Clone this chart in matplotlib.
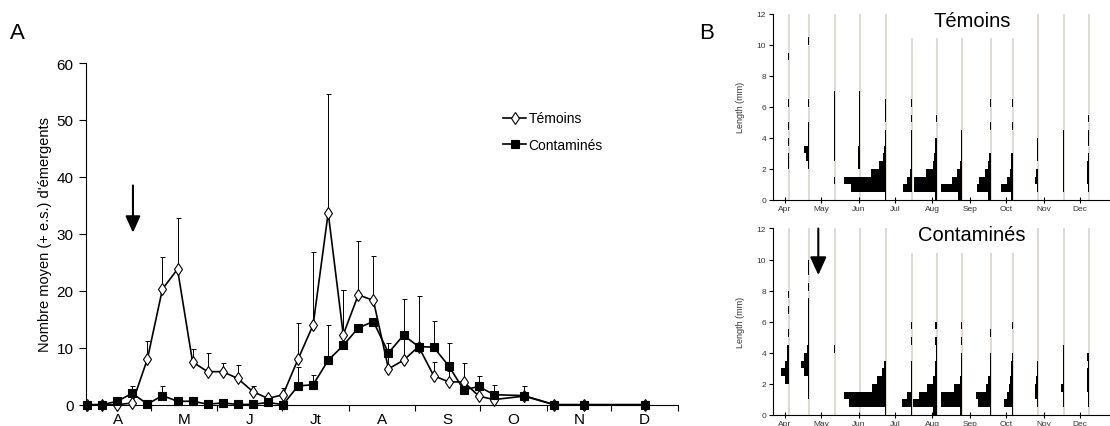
import numpy as np
import matplotlib
matplotlib.use('Agg')
from matplotlib import pyplot as plt
from matplotlib.patches import Rectangle

plt.rcParams['font.family'] = ['Liberation Sans', 'DejaVu Sans']

# ---- Panneau A : nombre moyen d'émergents (jours depuis le 1er avril) ----
jours = [0.5, 7.5, 14.5, 21.5, 28.5, 35.5, 42.5, 49.5, 56.5, 63.5, 70.5,
         77.5, 84.5, 91.5, 98.5, 105.5, 112.5, 119.5, 126.5, 133.5, 140.5,
         147.5, 154.5, 161.5, 168.5, 175.5, 182.5, 189.5, 203.5, 217.5,
         231.5, 259.5]
temoins = [0, 0, 0, 0.3, 8.0, 20.3, 23.8, 7.5, 5.8, 5.8, 4.6, 2.3, 1.1,
           1.75, 8.0, 14.0, 33.7, 12.3, 19.3, 18.3, 6.3, 7.8, 10.2, 5.1,
           4.0, 4.0, 1.5, 0.9, 1.5, 0, 0, 0]
temoins_es = [0, 0, 0, 0, 3.2, 5.7, 9.0, 2.2, 3.3, 1.5, 2.3, 1.0, 0.4,
              1.15, 6.3, 12.8, 20.8, 7.9, 9.4, 7.8, 4.5, 4.0, 0, 2.4,
              2.0, 3.3, 0, 0, 0, 0, 0, 0]
contamines = [0, 0, 0.6, 2.0, 0.1, 1.6, 0.6, 0.6, 0.1, 0.3, 0.05, 0.05,
              0.4, 0, 3.3, 3.5, 7.8, 10.4, 13.5, 14.6, 9.1, 12.2, 10.2,
              10.1, 6.8, 2.6, 3.2, 1.75, 1.6, 0, 0, 0]
contamines_es = [0, 0, 0.5, 1.2, 0, 1.7, 0, 0, 0, 0, 0, 0, 0.3, 0, 3.4,
                 1.8, 6.2, 9.8, 0, 0, 0, 6.3, 8.9, 4.6, 4.0, 0, 1.9, 1.75,
                 1.6, 0, 0, 0]
mois_a = ['A', 'M', 'J', 'Jt', 'A', 'S', 'O', 'N', 'D']
debut_mois = [0, 30, 61, 91, 122, 153, 183, 214, 244, 275]

# ---- Panneau B : distributions de tailles (classes de 0.5 mm) ----
dates_b = [3.3, 20.1, 41.1, 62.0, 83.5, 105.3, 125.5, 146.7, 170.6, 188.3,
           209.5, 230.8, 251.4]
mois_b = ['Apr', 'May', 'Jun', 'Jul', 'Aug', 'Sep', 'Oct', 'Nov', 'Dec']
hist_temoins = [
    [0, 0, 0, 0.5, 1.2, 1.2, 0, 0.6, 0, 0.6, 0, 0, 0.6, 0, 0, 0, 0, 0, 0.6],
    [0, 0, 0, 0, 1.5, 3.7, 5.3, 1, 1, 1, 0, 0, 1, 0, 0, 0, 0, 0, 0, 0, 1],
    [0, 0, 0.5, 0, 0, 0.5, 1, 1, 1, 1, 0.5, 0.5, 1.2, 0.5],
    [0, 0, 0, 0, 2.3, 2.3, 2.3, 1.3, 1.3, 1.3, 1.3, 1.3, 1.3, 1.3],
    [1, 34.7, 41.7, 15, 6.7, 3.3, 2.3, 1.3, 1.3, 0, 1, 1, 1.3],
    [0, 9, 5, 2, 1.3, 1, 1, 1, 1, 0, 1, 0, 1],
    [1.3, 23, 22.7, 10.7, 4, 2.3, 1.7, 1.3, 0, 0, 0.6],
    [4, 21.3, 10.3, 5.3, 2.7, 1.3, 1.3, 1.3, 1.3],
    [2.7, 14.3, 12, 6, 3.3, 1.7, 0, 0, 0, 1.3, 0, 0, 1.3],
    [1.3, 11.7, 6, 2.7, 1.3, 1.3, 0, 0, 0, 0.6, 0, 0, 0.6],
    [0, 1, 3.3, 2, 0.6, 1, 1, 1],
    [0, 1.3, 1.3, 1.3, 1.3, 0.5, 1.3, 0.5, 1.3],
    [0, 0.5, 2, 2, 2, 0.5, 0, 0.5, 0.5, 0, 0.5],
]
hist_contamines = [
    [0, 0, 0, 0.5, 4, 7.7, 4, 1.7, 1.7, 0, 1.3, 0, 0, 0.6, 0, 0.8],
    [0, 0, 1, 1, 1, 5, 8.7, 5, 2.5, 1, 1, 1, 1, 1, 1, 0, 1, 0, 1, 1],
    [0, 0, 0, 0, 0, 0, 0, 0, 0.7],
    [],
    [1, 37, 42, 14, 8.7, 4.3, 2.2],
    [1.3, 10, 5, 1.3, 1.3, 1.3, 1.3, 0, 0, 1.3, 0, 1.3],
    [4, 24, 17.7, 9.3, 4, 1.7, 1.3, 0.6, 0.6, 1.3, 0, 1.3],
    [2, 21.3, 21.3, 8.7, 2, 1.3, 1.3, 1.3, 0, 1.3, 0, 1.3],
    [1.3, 13.3, 15.3, 5, 2.7, 1.3, 1.3, 1, 0, 0, 1.3],
    [1, 8.3, 5.3, 3.7, 2.7, 1.7, 2, 0.6, 0, 0, 0, 0.6],
    [0, 1.3, 3.3, 3, 1.7, 1.3, 1.3],
    [0, 1.3, 1.3, 3, 1.3, 1.3, 1.3, 1.3, 1.3],
    [0, 0.5, 0.5, 1.3, 1.3, 1.3, 0.5, 1.3],
]
classe = 0.5        # largeur des classes (mm)
echelle = 1 / 1.21  # largeur des barres -> jours

fig = plt.figure(figsize=(11.1, 4.27), dpi=100)

# ---------------- Panneau A ----------------
ax = fig.add_axes([0.0775, 0.0499, 0.5333, 0.8002])
x = np.array(jours)
series = [(temoins, temoins_es, 'd', 'white', 6.5, 'Témoins'),
          (contamines, contamines_es, 's', 'black', 5.5, 'Contaminés')]
for y, es, mk, fc, ms, nom in series:
    y = np.array(y)
    es = np.array(es)
    m = es > 0
    ax.errorbar(x[m], y[m], yerr=[np.zeros(m.sum()), es[m]], fmt='none',
                ecolor='black', elinewidth=0.7, capsize=1.8, capthick=0.7,
                zorder=2)
    ax.plot(x, y, '-', color='black', lw=1.2, marker=mk, mfc=fc, mec='black',
            mew=0.8, ms=ms, label=nom, clip_on=False, zorder=3)

ax.annotate('', xy=(21.8, 30.2), xytext=(21.8, 38.5),
            arrowprops=dict(arrowstyle='-|>,head_length=1.0,head_width=0.45',
                            lw=1.5, color='black', shrinkA=0, shrinkB=0))

ax.set_xlim(0, 275)
ax.set_ylim(0, 60)
ax.set_yticks(range(0, 61, 10))
ax.set_xticks(debut_mois)
ax.set_xticklabels([])
ax.set_xticks([(a + b) / 2 for a, b in zip(debut_mois[:-1], debut_mois[1:])],
              minor=True)
ax.set_xticklabels(mois_a, minor=True)
ax.tick_params(axis='x', which='major', direction='out', length=4, width=0.8)
ax.tick_params(axis='x', which='minor', length=0, labelsize=11, pad=5)
ax.tick_params(axis='y', direction='out', length=5, width=0.8, labelsize=11,
               pad=4)
for s in ['top', 'right']:
    ax.spines[s].set_visible(False)
for s in ['left', 'bottom']:
    ax.spines[s].set_linewidth(0.8)
ax.set_ylabel("Nombre moyen (+ e.s.) d'émergents", fontsize=10.5, labelpad=3)
ax.legend(frameon=False, loc='upper left', bbox_to_anchor=(0.684, 0.895),
          fontsize=10, handlelength=1.6, handletextpad=0.2, labelspacing=0.9)

fig.text(0.009, 0.922, 'A', fontsize=16, va='center')
fig.text(0.630, 0.922, 'B', fontsize=16, va='center')


# ---------------- Panneau B ----------------
def panneau_b(ax, histos, titre):
    ax.vlines(dates_b, 0, 12, color='#dcd8d0', lw=1.3, zorder=1)
    for d, h in zip(dates_b, histos):
        if len(h) == 0:
            continue
        l = np.array(h) * echelle
        bas = np.arange(len(h)) * classe
        ax.barh(bas, l, height=classe, left=d - l, align='edge',
                color='black', lw=0, zorder=2)
    ax.add_patch(Rectangle((95, 10.45), 105, 2, color='white', lw=0, zorder=3))
    ax.text(0.59, 0.965, titre, transform=ax.transAxes, ha='center',
            va='center', fontsize=14.5, zorder=4)
    ax.set_xlim(-10, 269)
    ax.set_ylim(0, 12)
    ax.set_yticks(range(0, 13, 2))
    ax.set_xticks(debut_mois[:9])
    ax.set_xticklabels(mois_b)
    ax.tick_params(axis='x', direction='inout', length=5, width=0.8,
                   labelsize=6, labelcolor='#333333', pad=1)
    ax.tick_params(axis='y', direction='out', length=3, width=0.8,
                   labelsize=6, labelcolor='#333333', pad=2)
    for s in ['top', 'right']:
        ax.spines[s].set_visible(False)
    for s in ['left', 'bottom']:
        ax.spines[s].set_linewidth(0.8)
    ax.set_ylabel('Length (mm)', fontsize=6.5, color='#333333', labelpad=8)


ax1 = fig.add_axes([0.6964, 0.5293, 0.3036, 0.4363])
panneau_b(ax1, hist_temoins, 'Témoins')

ax2 = fig.add_axes([0.6964, 0.0258, 0.3036, 0.4368])
panneau_b(ax2, hist_contamines, 'Contaminés')
ax2.annotate('', xy=(27.5, 9.0), xytext=(27.5, 12.0),
             arrowprops=dict(arrowstyle='-|>,head_length=1.1,head_width=0.5',
                             lw=1.5, color='black', shrinkA=0, shrinkB=0))

fig.savefig('out.png', dpi=100)
